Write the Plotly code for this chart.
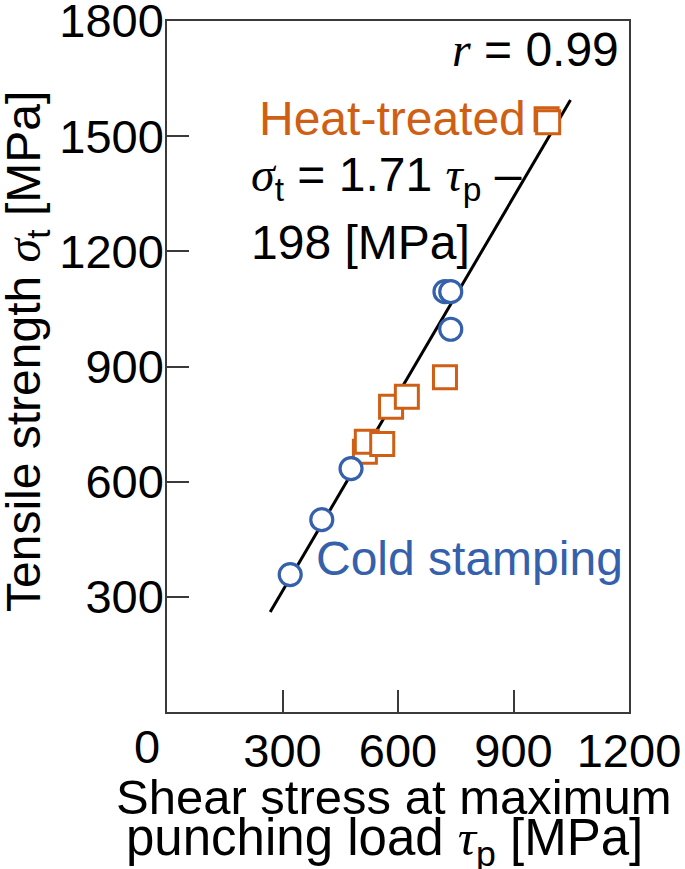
import plotly.graph_objects as go

# Data
cold_x = [320, 402, 478, 722, 737, 737]
cold_y = [358, 501, 634, 1095, 1095, 997]
heat_x = [514, 519, 559, 582, 623, 722, 986, 990]
heat_y = [678, 704, 698, 795, 821, 872, 1544, 1536]
slope = 1.71
intercept = -198
fit_x = [268, 1048]
fit_y = [slope * v + intercept for v in fit_x]
x_ticks = [300, 600, 900, 1200]
y_ticks = [300, 600, 900, 1200, 1500, 1800]

BLUE = "#3560AC"
ORANGE = "#CF5F14"
FRAME = "#3a3a3a"
FONT = "Liberation Sans, Arial, sans-serif"
SERIF = "Liberation Serif, Times New Roman, serif"
FS = 48
TFS = 47

fig = go.Figure()
fig.add_trace(go.Scatter(x=fit_x, y=fit_y, mode="lines",
                         line=dict(color="black", width=3), showlegend=False))
fig.add_trace(go.Scatter(x=heat_x, y=heat_y, mode="markers",
                         marker=dict(symbol="square", size=23, color="white",
                                     line=dict(color=ORANGE, width=3)),
                         showlegend=False))
fig.add_trace(go.Scatter(x=cold_x, y=cold_y, mode="markers",
                         marker=dict(symbol="circle", size=22, color="white",
                                     line=dict(color=BLUE, width=3.2)),
                         showlegend=False))

axis_common = dict(showline=True, mirror=True, linecolor=FRAME, linewidth=1.5,
                   ticks="inside", ticklen=22, tickwidth=1.5, tickcolor=FRAME,
                   showgrid=False, zeroline=False, automargin=False,
                   ticklabeloverflow="allow",
                   tickfont=dict(family=FONT, size=TFS, color="black"))

fig.update_xaxes(range=[0, 1200.01], tickvals=x_ticks,
                 ticktext=[str(v) for v in x_ticks], ticklabelstandoff=-3, **axis_common)
fig.update_yaxes(range=[0, 1800.01], tickvals=y_ticks,
                 ticktext=[str(v) for v in y_ticks], ticklabelstandoff=-8, **axis_common)

sig = f'<span style="font-family:{SERIF}"><i>σ</i></span>'
tau = f'<span style="font-family:{SERIF}"><i>τ</i></span>'

PW, PH = 462, 691  # plot box size in pixels

ann = [
    dict(x=1176, y=1725, xref="x", yref="y", xanchor="right", yanchor="middle",
         text=f'<span style="font-family:{SERIF}"><i>r</i></span> = 0.99',
         font=dict(color="black")),
    dict(x=935, y=1545, xref="x", yref="y", xanchor="right", yanchor="middle",
         text="Heat-treated", font=dict(color=ORANGE)),
    dict(x=216, y=1391, xref="x", yref="y", xanchor="left", yanchor="middle",
         text=f"{sig}<sub>t</sub> = 1.71 {tau}<sub>p</sub> –", font=dict(color="black")),
    dict(x=216, y=1222, xref="x", yref="y", xanchor="left", yanchor="middle",
         text="198 [MPa]", font=dict(color="black")),
    dict(x=384, y=399, xref="x", yref="y", xanchor="left", yanchor="middle",
         text="Cold stamping", font=dict(color=BLUE)),
    dict(x=0, y=0, xref="paper", yref="paper", xanchor="center", yanchor="top",
         xshift=-20, yshift=-7, text="0", font=dict(color="black", size=TFS)),
    dict(x=(27 - 167) / PW, y=(712 - 352) / PH, xref="paper", yref="paper",
         xanchor="center", yanchor="middle",
         text=f"Tensile strength {sig}<sub>t</sub> [MPa]", textangle=-90,
         font=dict(color="black")),
    dict(x=(394 - 167) / PW, y=(712 - 797) / PH, xref="paper", yref="paper",
         xanchor="center", yanchor="middle", text="Shear stress at maximum",
         font=dict(color="black", size=49)),
    dict(x=(384 - 167) / PW, y=(712 - 841) / PH, xref="paper", yref="paper",
         xanchor="center", yanchor="middle",
         text=f"punching load {tau}<sub>p</sub> [MPa]",
         font=dict(color="black", size=51)),
]
for a in ann:
    a["showarrow"] = False
    a["borderpad"] = 0
    f = dict(family=FONT, size=FS)
    f.update(a["font"])
    a["font"] = f

fig.update_layout(width=685, height=869,
                  margin=dict(l=167, r=56, t=21, b=157),
                  paper_bgcolor="white", plot_bgcolor="white",
                  font=dict(family=FONT, size=FS, color="black"),
                  annotations=ann, showlegend=False)

# remove the browser's default 8px page margin so the figure fills the window
fig.write_html("out.html", config={"displayModeBar": False},
               post_script="document.body.style.margin='0';")
